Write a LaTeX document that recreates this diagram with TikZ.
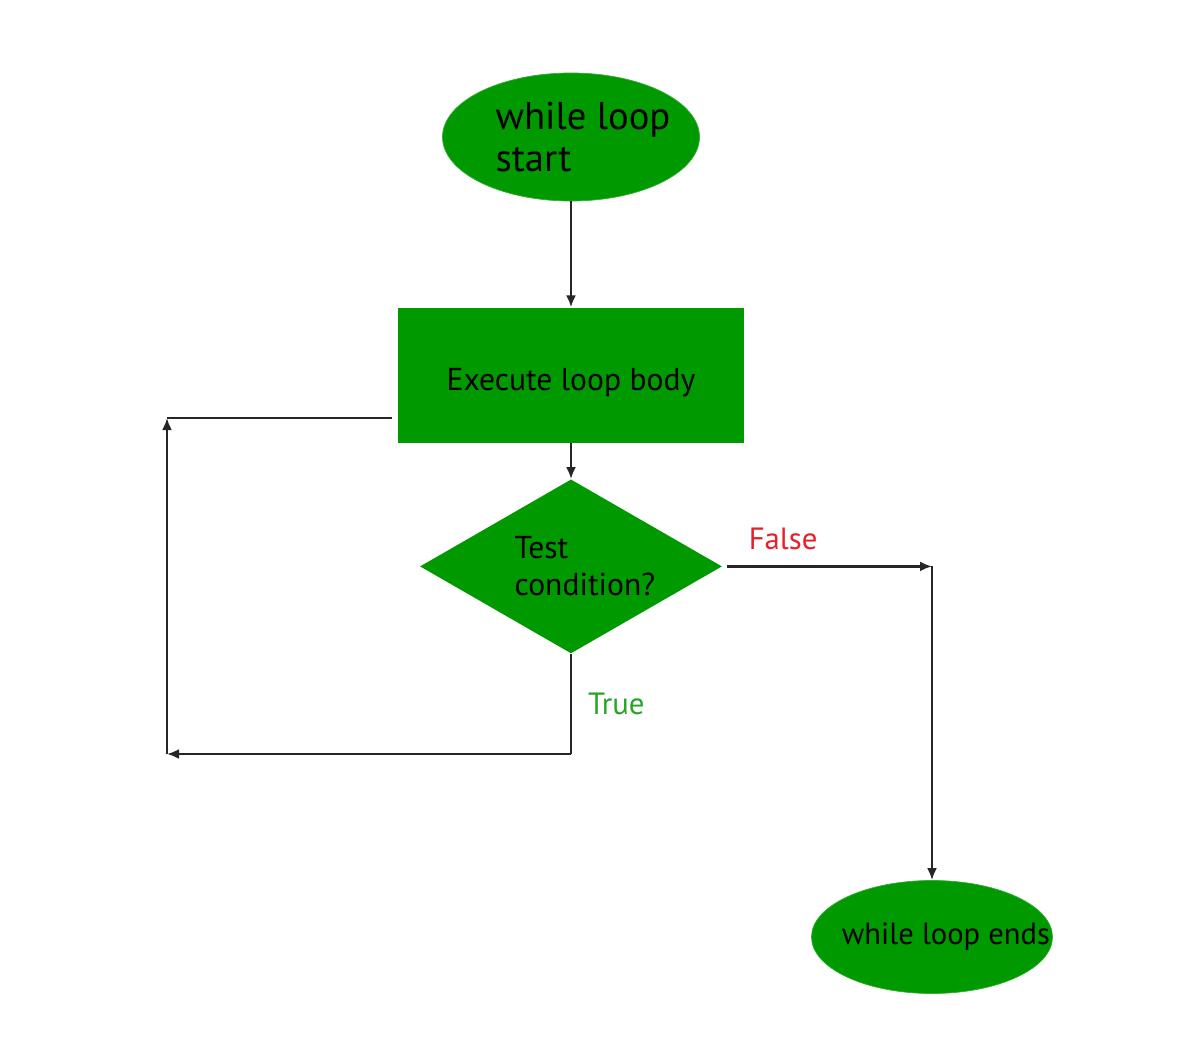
\documentclass[tikz,border=0pt]{standalone}
\usepackage{fontspec}
\setmainfont{PT Sans}
\usetikzlibrary{arrows.meta,positioning,shapes.geometric}
\definecolor{boxgreen}{RGB}{0,153,0}
\definecolor{truegreen}{RGB}{40,165,40}
\definecolor{falsered}{RGB}{232,30,40}
\tikzstyle{terminal}=[ellipse, fill=boxgreen, draw=boxgreen!80, inner sep=0pt]
\tikzstyle{stepbox}=[rectangle, fill=boxgreen, minimum width=6.92cm, minimum height=2.7cm, text height=0.72cm, text depth=0.1cm, font=\fontsize{18}{20}\selectfont]
\tikzstyle{decision}=[diamond, fill=boxgreen, shape aspect=1.74, minimum width=6.04cm, minimum height=3.48cm, inner sep=0pt]
\tikzstyle{inside}=[align=left, font=\fontsize{18}{21}\selectfont]
\tikzstyle{flow}=[line width=1.3pt, black!85]

\begin{document}
\begin{tikzpicture}[node distance=2.12cm,>={Latex[length=2.4mm,width=2mm]}]
    \useasboundingbox (0,0) rectangle (23.8,-21.24);
    \node [terminal, minimum width=5.14cm, minimum height=2.56cm,
        label={[inside, font=\fontsize{22}{24}\selectfont, xshift=0.24cm]center:while loop\\start}] (start) at (11.42,-2.74) {};
    \node [stepbox, below=of start] (body) {Execute loop body};
    \node [decision, below=0.72cm of body,
        label={[inside, xshift=0.28cm]center:Test\\condition?}] (test) {};
    \node [terminal, minimum width=4.82cm, minimum height=2.26cm,
        label={[inside, font=\fontsize{17.4}{20}\selectfont, xshift=0.28cm]center:while loop ends}] (end) at (18.64,-18.74) {};
    \coordinate (bl) at (3.34,-15.08);
    \coordinate (tl) at (3.34,-8.36);
    \coordinate (tcorner) at (test.south |- bl);
    \coordinate (fcorner) at (end.north |- test.east);
    \draw[flow,->] (start) -- (body);
    \draw[flow,->] (body) -- (test);
    \draw[flow,->,shorten <=0.1cm] (test.east) -- node [pos=0.29, above=0.2cm, text=falsered, font=\fontsize{17.5}{20}\selectfont] {False} (fcorner);
    \draw[flow,->] (fcorner) -- (end);
    \draw[flow] (test.south) -- node [right=0.2cm, text=truegreen, font=\fontsize{17.5}{20}\selectfont] {True} (tcorner);
    \draw[flow,->] (tcorner) -- (bl);
    \draw[flow,->] (bl) -- (tl);
    \draw[flow,shorten >=0.12cm] (tl) -- (body.west |- tl);
\end{tikzpicture}
\end{document}
